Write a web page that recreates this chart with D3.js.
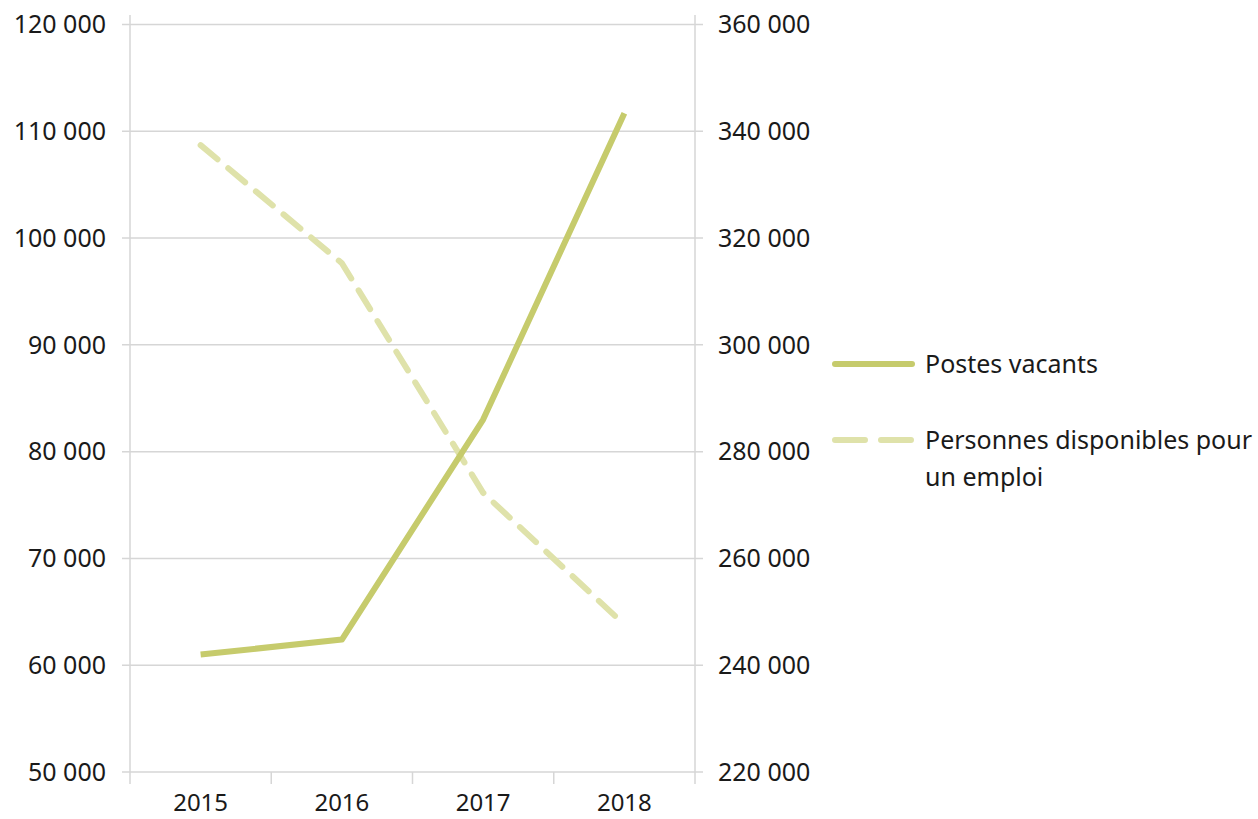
<!DOCTYPE html>
<html>
<head>
<meta charset="utf-8">
<script src="https://cdn.jsdelivr.net/npm/d3@7"></script>
<style>
  body { margin: 0; background: #fff; }
  text { font-family: "Noto Sans", sans-serif; fill: #1a1a1a; }
</style>
</head>
<body>
<svg id="chart" width="1258" height="819"></svg>
<script>
// data
const years = ['2015', '2016', '2017', '2018']
const postesVacants = [61000, 62400, 83000, 111700]
const personnesDisponibles = [337400, 315300, 272300, 247600]
const leftTicks = [50000, 60000, 70000, 80000, 90000, 100000, 110000, 120000]
const rightTicks = [220000, 240000, 260000, 280000, 300000, 320000, 340000, 360000]
const seriesNames = ['Postes vacants', 'Personnes disponibles pour un emploi']

const solidColor = '#c6cb6c'
const dashColor = '#dfe2aa'
const gridColor = '#d6d6d6'

const svg = d3.select('#chart')

const x = d3.scaleBand().domain(years).range([130, 695]).padding(0)
const yL = d3.scaleLinear().domain([50000, 120000]).range([772, 24.5])
const yR = d3.scaleLinear().domain([220000, 360000]).range([772, 24.5])

const fmt = d3.formatLocale({ decimal: ',', thousands: ' ', grouping: [3], currency: ['', ''] }).format(',d')

// gridlines
svg.append('g')
    .selectAll('line')
    .data(leftTicks)
    .join('line')
    .attr('x1', 122)
    .attr('x2', 703)
    .attr('y1', d => yL(d))
    .attr('y2', d => yL(d))
    .attr('stroke', gridColor)
    .attr('stroke-width', 1.5)

// vertical axis lines + bottom ticks
const xTicks = years.map(d => x(d)).concat([x(years[years.length - 1]) + x.bandwidth()])
svg.append('g')
    .selectAll('line')
    .data(xTicks)
    .join('line')
    .attr('x1', d => d)
    .attr('x2', d => d)
    .attr('y1', (d, i) => (i == 0 || i == xTicks.length - 1) ? 15 : 772)
    .attr('y2', 784)
    .attr('stroke', gridColor)
    .attr('stroke-width', 1.5)

// left labels
svg.append('g')
    .selectAll('text')
    .data(leftTicks)
    .join('text')
    .attr('x', 106)
    .attr('y', d => yL(d))
    .attr('dy', '0.35em')
    .attr('text-anchor', 'end')
    .style('font-size', '25px')
    .text(d => fmt(d))

// right labels
svg.append('g')
    .selectAll('text')
    .data(rightTicks)
    .join('text')
    .attr('x', 718)
    .attr('y', d => yR(d))
    .attr('dy', '0.35em')
    .style('font-size', '25px')
    .text(d => fmt(d))

// x labels
svg.append('g')
    .selectAll('text')
    .data(years)
    .join('text')
    .attr('x', d => x(d) + x.bandwidth() / 2)
    .attr('y', 811)
    .attr('text-anchor', 'middle')
    .style('font-size', '24px')
    .text(d => d)

const lineL = d3.line()
    .x((d, i) => x(years[i]) + x.bandwidth() / 2)
    .y(d => yL(d))
const lineR = d3.line()
    .x((d, i) => x(years[i]) + x.bandwidth() / 2)
    .y(d => yR(d))

svg.append('path')
    .datum(personnesDisponibles)
    .attr('d', lineR)
    .attr('fill', 'none')
    .attr('stroke', dashColor)
    .attr('stroke-width', 6)
    .attr('stroke-dasharray', '22 14')
    .attr('stroke-linecap', 'round')

svg.append('path')
    .datum(postesVacants)
    .attr('d', lineL)
    .attr('fill', 'none')
    .attr('stroke', solidColor)
    .attr('stroke-width', 6)
    .attr('stroke-linejoin', 'round')

// legend
const legend = svg.append('g').attr('transform', 'translate(835,0)')
legend.append('line')
    .attr('x1', 0).attr('x2', 77)
    .attr('y1', 364).attr('y2', 364)
    .attr('stroke', solidColor)
    .attr('stroke-width', 6)
    .attr('stroke-linecap', 'round')
legend.append('line')
    .attr('x1', 0).attr('x2', 77)
    .attr('y1', 440).attr('y2', 440)
    .attr('stroke', dashColor)
    .attr('stroke-width', 6)
    .attr('stroke-dasharray', '30 16')
    .attr('stroke-linecap', 'round')
legend.append('text')
    .attr('x', 90).attr('y', 364).attr('dy', '0.35em')
    .style('font-size', '25px')
    .text(seriesNames[0])
legend.append('text')
    .attr('x', 90).attr('y', 440)
    .style('font-size', '25px')
    .selectAll('tspan')
    .data(['Personnes disponibles pour', 'un emploi'])
    .join('tspan')
    .attr('x', 90)
    .attr('dy', (d, i) => i == 0 ? '0.35em' : '37px')
    .text(d => d)
</script>
</body>
</html>
